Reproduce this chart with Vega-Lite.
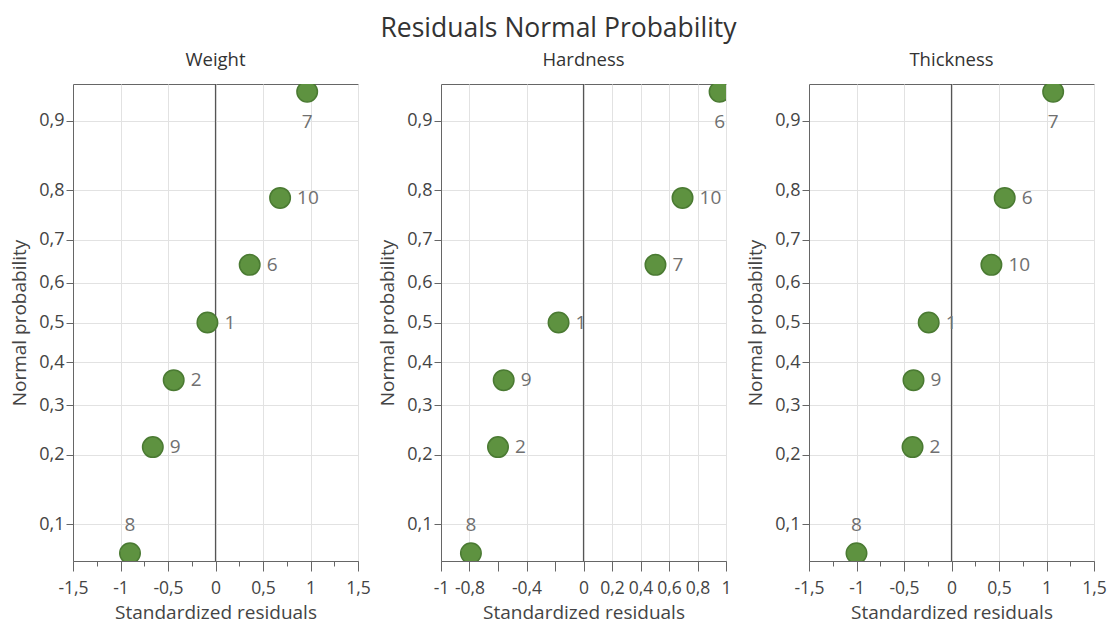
{
  "$schema": "https://vega.github.io/schema/vega-lite/v6.json",
  "background": "white",
  "padding": {"left": 10, "top": 15, "right": 5, "bottom": 2},
  "title": {"text": "Residuals Normal Probability", "fontSize": 26.5, "fontWeight": "normal", "color": "#333", "font": "Open Sans", "anchor": "middle", "offset": 8},
  "datasets": {
    "res": [
      {"variable": "Weight", "obs": "8", "residual": -0.90, "z": -1.4652, "prob": 0.0714},
      {"variable": "Weight", "obs": "9", "residual": -0.66, "z": -0.7916, "prob": 0.2143},
      {"variable": "Weight", "obs": "2", "residual": -0.44, "z": -0.3661, "prob": 0.3571},
      {"variable": "Weight", "obs": "1", "residual": -0.085, "z": 0, "prob": 0.5},
      {"variable": "Weight", "obs": "6", "residual": 0.36, "z": 0.3661, "prob": 0.6429},
      {"variable": "Weight", "obs": "10", "residual": 0.68, "z": 0.7916, "prob": 0.7857},
      {"variable": "Weight", "obs": "7", "residual": 0.965, "z": 1.4652, "prob": 0.9286},
      {"variable": "Hardness", "obs": "8", "residual": -0.79, "z": -1.4652, "prob": 0.0714},
      {"variable": "Hardness", "obs": "2", "residual": -0.60, "z": -0.7916, "prob": 0.2143},
      {"variable": "Hardness", "obs": "9", "residual": -0.56, "z": -0.3661, "prob": 0.3571},
      {"variable": "Hardness", "obs": "1", "residual": -0.175, "z": 0, "prob": 0.5},
      {"variable": "Hardness", "obs": "7", "residual": 0.505, "z": 0.3661, "prob": 0.6429},
      {"variable": "Hardness", "obs": "10", "residual": 0.695, "z": 0.7916, "prob": 0.7857},
      {"variable": "Hardness", "obs": "6", "residual": 0.955, "z": 1.4652, "prob": 0.9286},
      {"variable": "Thickness", "obs": "8", "residual": -1.0, "z": -1.4652, "prob": 0.0714},
      {"variable": "Thickness", "obs": "2", "residual": -0.41, "z": -0.7916, "prob": 0.2143},
      {"variable": "Thickness", "obs": "9", "residual": -0.40, "z": -0.3661, "prob": 0.3571},
      {"variable": "Thickness", "obs": "1", "residual": -0.24, "z": 0, "prob": 0.5},
      {"variable": "Thickness", "obs": "10", "residual": 0.42, "z": 0.3661, "prob": 0.6429},
      {"variable": "Thickness", "obs": "6", "residual": 0.56, "z": 0.7916, "prob": 0.7857},
      {"variable": "Thickness", "obs": "7", "residual": 1.07, "z": 1.4652, "prob": 0.9286}
    ]
  },
  "data": {"name": "res"},
  "spacing": 83,
  "bounds": "flush",
  "hconcat": [
    {
      "title": "Weight",
      "width": 285, "height": 477,
      "transform": [{"filter": "datum.variable === 'Weight'"}],
      "layer": [
        {"data": {"values": [{}]}, "mark": {"type": "rule", "color": "#555", "strokeWidth": 1.2}, "encoding": {"x": {"datum": 0, "type": "quantitative"}}},
        {
          "mark": {"type": "point", "filled": true, "size": 420, "fill": "#5e9240", "stroke": "#4a7a32", "strokeWidth": 1.5, "opacity": 1, "clip": true},
          "encoding": {
            "x": {"field": "residual", "type": "quantitative", "title": "Standardized residuals", "scale": {"domain": [-1.5, 1.5], "nice": false, "zero": false},
              "axis": {"values": [-1.5, -1.25, -1, -0.75, -0.5, -0.25, 0, 0.25, 0.5, 0.75, 1, 1.25, 1.5], "tickCount": 40,
                "labelOverlap": false,
                "labelExpr": "abs(datum.value*2 - round(datum.value*2)) > 0.01 ? '' : replace(toString(round(datum.value*10)/10), '.', ',')",
                "gridOpacity": {"condition": {"test": "abs(datum.value*2 - round(datum.value*2)) > 0.01", "value": 0}, "value": 1},
                "tickSize": {"condition": {"test": "abs(datum.value*2 - round(datum.value*2)) > 0.01", "value": 5}, "value": 10}}},
            "y": {"field": "z", "type": "quantitative", "title": "Normal probability", "scale": {"domain": [-1.515, 1.515], "nice": false, "zero": false},
              "axis": {"values": [-1.28155, -0.84162, -0.5244, -0.25335, 0, 0.25335, 0.5244, 0.84162, 1.28155], "tickCount": 40, "labelOverlap": false,
                "labelExpr": "replace(format(cumulativeNormal(datum.value), '.1f'), '.', ',')"}}
          }
        },
        {
          "transform": [{"filter": "datum.z > -1.4 && datum.z < 1.4"}],
          "mark": {"type": "text", "align": "left", "baseline": "middle", "dx": 17, "fontSize": 19, "color": "#707070", "font": "Open Sans", "clip": true},
          "encoding": {"x": {"field": "residual", "type": "quantitative"}, "y": {"field": "z", "type": "quantitative"}, "text": {"field": "obs"}}
        },
        {
          "transform": [{"filter": "datum.z >= 1.4"}],
          "mark": {"type": "text", "align": "center", "baseline": "middle", "dy": 30, "fontSize": 19, "color": "#707070", "font": "Open Sans", "clip": true},
          "encoding": {"x": {"field": "residual", "type": "quantitative"}, "y": {"field": "z", "type": "quantitative"}, "text": {"field": "obs"}}
        },
        {
          "transform": [{"filter": "datum.z <= -1.4"}],
          "mark": {"type": "text", "align": "center", "baseline": "middle", "dy": -28, "fontSize": 19, "color": "#707070", "font": "Open Sans", "clip": true},
          "encoding": {"x": {"field": "residual", "type": "quantitative"}, "y": {"field": "z", "type": "quantitative"}, "text": {"field": "obs"}}
        }
      ]
    },
    {
      "title": "Hardness",
      "width": 285, "height": 477,
      "transform": [{"filter": "datum.variable === 'Hardness'"}],
      "layer": [
        {"data": {"values": [{}]}, "mark": {"type": "rule", "color": "#555", "strokeWidth": 1.2}, "encoding": {"x": {"datum": 0, "type": "quantitative"}}},
        {
          "mark": {"type": "point", "filled": true, "size": 420, "fill": "#5e9240", "stroke": "#4a7a32", "strokeWidth": 1.5, "opacity": 1, "clip": true},
          "encoding": {
            "x": {"field": "residual", "type": "quantitative", "title": "Standardized residuals", "scale": {"domain": [-1, 1], "nice": false, "zero": false},
              "axis": {"values": [-1, -0.8, -0.6, -0.4, -0.2, 0, 0.2, 0.4, 0.6, 0.8, 1], "tickCount": 40,
                "labelOverlap": false,
                "labelExpr": "(abs(datum.value + 0.6) < 0.01 || abs(datum.value + 0.2) < 0.01) ? '' : replace(toString(round(datum.value*10)/10), '.', ',')",
                "gridOpacity": {"condition": {"test": "abs(datum.value + 0.6) < 0.01 || abs(datum.value + 0.2) < 0.01", "value": 0}, "value": 1},
                "tickSize": 10}},
            "y": {"field": "z", "type": "quantitative", "title": "Normal probability", "scale": {"domain": [-1.515, 1.515], "nice": false, "zero": false},
              "axis": {"values": [-1.28155, -0.84162, -0.5244, -0.25335, 0, 0.25335, 0.5244, 0.84162, 1.28155], "tickCount": 40, "labelOverlap": false,
                "labelExpr": "replace(format(cumulativeNormal(datum.value), '.1f'), '.', ',')"}}
          }
        },
        {
          "transform": [{"filter": "datum.z > -1.4 && datum.z < 1.4"}],
          "mark": {"type": "text", "align": "left", "baseline": "middle", "dx": 17, "fontSize": 19, "color": "#707070", "font": "Open Sans", "clip": true},
          "encoding": {"x": {"field": "residual", "type": "quantitative"}, "y": {"field": "z", "type": "quantitative"}, "text": {"field": "obs"}}
        },
        {
          "transform": [{"filter": "datum.z >= 1.4"}],
          "mark": {"type": "text", "align": "center", "baseline": "middle", "dy": 30, "fontSize": 19, "color": "#707070", "font": "Open Sans", "clip": true},
          "encoding": {"x": {"field": "residual", "type": "quantitative"}, "y": {"field": "z", "type": "quantitative"}, "text": {"field": "obs"}}
        },
        {
          "transform": [{"filter": "datum.z <= -1.4"}],
          "mark": {"type": "text", "align": "center", "baseline": "middle", "dy": -28, "fontSize": 19, "color": "#707070", "font": "Open Sans", "clip": true},
          "encoding": {"x": {"field": "residual", "type": "quantitative"}, "y": {"field": "z", "type": "quantitative"}, "text": {"field": "obs"}}
        }
      ]
    },
    {
      "title": "Thickness",
      "width": 285, "height": 477,
      "transform": [{"filter": "datum.variable === 'Thickness'"}],
      "layer": [
        {"data": {"values": [{}]}, "mark": {"type": "rule", "color": "#555", "strokeWidth": 1.2}, "encoding": {"x": {"datum": 0, "type": "quantitative"}}},
        {
          "mark": {"type": "point", "filled": true, "size": 420, "fill": "#5e9240", "stroke": "#4a7a32", "strokeWidth": 1.5, "opacity": 1, "clip": true},
          "encoding": {
            "x": {"field": "residual", "type": "quantitative", "title": "Standardized residuals", "scale": {"domain": [-1.5, 1.5], "nice": false, "zero": false},
              "axis": {"values": [-1.5, -1.25, -1, -0.75, -0.5, -0.25, 0, 0.25, 0.5, 0.75, 1, 1.25, 1.5], "tickCount": 40,
                "labelOverlap": false,
                "labelExpr": "abs(datum.value*2 - round(datum.value*2)) > 0.01 ? '' : replace(toString(round(datum.value*10)/10), '.', ',')",
                "gridOpacity": {"condition": {"test": "abs(datum.value*2 - round(datum.value*2)) > 0.01", "value": 0}, "value": 1},
                "tickSize": {"condition": {"test": "abs(datum.value*2 - round(datum.value*2)) > 0.01", "value": 5}, "value": 10}}},
            "y": {"field": "z", "type": "quantitative", "title": "Normal probability", "scale": {"domain": [-1.515, 1.515], "nice": false, "zero": false},
              "axis": {"values": [-1.28155, -0.84162, -0.5244, -0.25335, 0, 0.25335, 0.5244, 0.84162, 1.28155], "tickCount": 40, "labelOverlap": false,
                "labelExpr": "replace(format(cumulativeNormal(datum.value), '.1f'), '.', ',')"}}
          }
        },
        {
          "transform": [{"filter": "datum.z > -1.4 && datum.z < 1.4"}],
          "mark": {"type": "text", "align": "left", "baseline": "middle", "dx": 17, "fontSize": 19, "color": "#707070", "font": "Open Sans", "clip": true},
          "encoding": {"x": {"field": "residual", "type": "quantitative"}, "y": {"field": "z", "type": "quantitative"}, "text": {"field": "obs"}}
        },
        {
          "transform": [{"filter": "datum.z >= 1.4"}],
          "mark": {"type": "text", "align": "center", "baseline": "middle", "dy": 30, "fontSize": 19, "color": "#707070", "font": "Open Sans", "clip": true},
          "encoding": {"x": {"field": "residual", "type": "quantitative"}, "y": {"field": "z", "type": "quantitative"}, "text": {"field": "obs"}}
        },
        {
          "transform": [{"filter": "datum.z <= -1.4"}],
          "mark": {"type": "text", "align": "center", "baseline": "middle", "dy": -28, "fontSize": 19, "color": "#707070", "font": "Open Sans", "clip": true},
          "encoding": {"x": {"field": "residual", "type": "quantitative"}, "y": {"field": "z", "type": "quantitative"}, "text": {"field": "obs"}}
        }
      ]
    }
  ],
  "config": {
    "font": "Open Sans",
    "view": {"stroke": "#666", "strokeWidth": 1},
    "title": {"fontSize": 18.5, "fontWeight": "normal", "color": "#333", "font": "Open Sans", "offset": 14},
    "axis": {
      "labelFont": "Open Sans", "labelFontSize": 17.5, "labelColor": "#444",
      "titleFont": "Open Sans", "titleFontSize": 19, "titleFontWeight": "normal", "titleColor": "#444",
      "tickColor": "#666", "domainColor": "#666", "gridColor": "#e2e2e2", "grid": true,
      "labelFlush": false, "labelOverlap": false, "labelPadding": 8, "titlePadding": 7
    },
    "axisY": {"tickSize": 7, "labelPadding": 2, "titlePadding": 9, "labelFontSize": 18}
  }
}
